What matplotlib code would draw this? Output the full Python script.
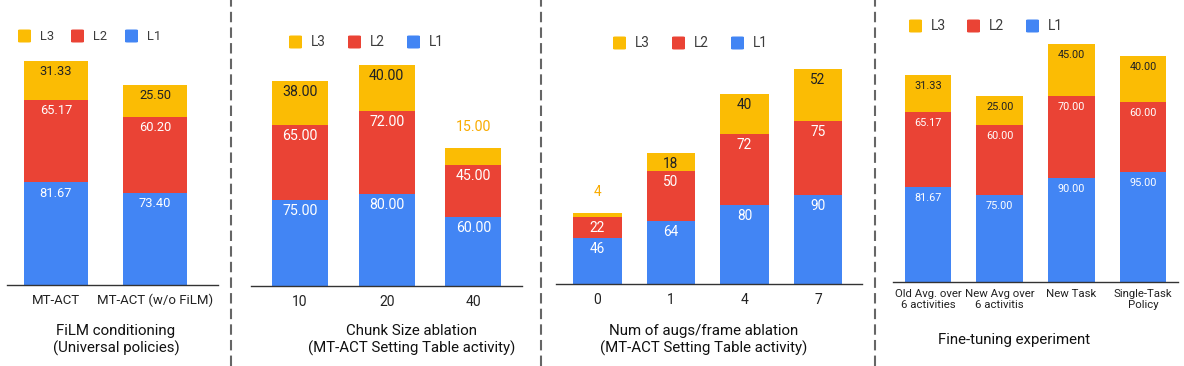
import matplotlib
matplotlib.use("Agg")
import matplotlib.pyplot as plt
from matplotlib.patches import FancyBboxPatch
from matplotlib.lines import Line2D

plt.rcParams['font.family'] = ['Roboto', 'DejaVu Sans']

W, H = 1184, 366
DPI = 100

series = ["L3", "L2", "L1"]
colors = {"L1": "#4285F4", "L2": "#EA4335", "L3": "#FBBC04"}

# Panel 1
p1_cats = ["MT-ACT", "MT-ACT (w/o FiLM)"]
p1_L1 = [81.67, 73.40]
p1_L2 = [65.17, 60.20]
p1_L3 = [31.33, 25.50]
p1_lab = [["81.67", "73.40"], ["65.17", "60.20"], ["31.33", "25.50"]]
p1_title = "FiLM conditioning\n(Universal policies)"

# Panel 2
p2_cats = ["10", "20", "40"]
p2_L1 = [75.0, 80.0, 60.0]
p2_L2 = [65.0, 72.0, 45.0]
p2_L3 = [38.0, 40.0, 15.0]
p2_lab = [["75.00", "80.00", "60.00"], ["65.00", "72.00", "45.00"], ["38.00", "40.00", "15.00"]]
p2_title = "Chunk Size ablation\n(MT-ACT Setting Table activity)"

# Panel 3
p3_cats = ["0", "1", "4", "7"]
p3_L1 = [46, 64, 80, 90]
p3_L2 = [22, 50, 72, 75]
p3_L3 = [4, 18, 40, 52]
p3_lab = [["46", "64", "80", "90"], ["22", "50", "72", "75"], ["4", "18", "40", "52"]]
p3_title = "Num of augs/frame ablation\n(MT-ACT Setting Table activity)"

# Panel 4
p4_cats = ["Old Avg. over\n6 activities", "New Avg over\n6 activitis", "New Task", "Single-Task\nPolicy"]
p4_L1 = [81.67, 75.00, 90.00, 95.00]
p4_L2 = [65.17, 60.00, 70.00, 60.00]
p4_L3 = [31.33, 25.00, 45.00, 40.00]
p4_lab = [["81.67", "75.00", "90.00", "95.00"], ["65.17", "60.00", "70.00", "60.00"], ["31.33", "25.00", "45.00", "40.00"]]
p4_title = "Fine-tuning experiment"

fig = plt.figure(figsize=(W / DPI, H / DPI), dpi=DPI)


def fx(px):
    return px / W


def fy(py):
    return 1 - py / H


def panel(cats, L1, L2, L3, labs, left, right, c0, sp, bw, base, scale, top,
          lab_fs, tick_fs, tick_pad, legend_y, legend_x, leg_fs, title, title_x, title_y,
          small_thresh):
    ax = fig.add_axes([fx(left), fy(base), fx(right - left), (base - top) / H])
    ax.set_xlim((left - c0) / sp, (right - c0) / sp)
    ax.set_ylim(0, (base - top) / scale)
    x = list(range(len(cats)))
    w = bw / sp
    bottoms = [0] * len(cats)
    for name, vals, lab in (("L1", L1, labs[0]), ("L2", L2, labs[1]), ("L3", L3, labs[2])):
        ax.bar(x, vals, w, bottom=bottoms, color=colors[name], linewidth=0, zorder=2)
        for i, v in enumerate(vals):
            topv = bottoms[i] + v
            if v * scale < small_thresh:
                ax.annotate(lab[i], (x[i], topv), xytext=(0, 21 * 72 / DPI),
                            textcoords="offset points", ha="center", va="center",
                            fontsize=lab_fs, color="#F9AB00" if name == "L3" else colors[name])
            else:
                tc = "#202124" if name == "L3" else "white"
                ax.annotate(lab[i], (x[i], topv), xytext=(0, -11 * 72 / DPI),
                            textcoords="offset points", ha="center", va="center",
                            fontsize=lab_fs, color=tc)
        bottoms = [b + v for b, v in zip(bottoms, vals)]
    for s in ("top", "right", "left"):
        ax.spines[s].set_visible(False)
    ax.spines["bottom"].set_color("#333333")
    ax.spines["bottom"].set_linewidth(1.0)
    ax.set_yticks([])
    ax.set_xticks(x)
    ax.set_xticklabels(cats, fontsize=tick_fs, color="#222222", linespacing=1.15)
    ax.tick_params(axis="x", length=0, pad=tick_pad)
    ax.patch.set_alpha(0)
    # legend
    for k, name in enumerate(series):
        sx = legend_x[k]
        fig.patches.append(FancyBboxPatch((fx(sx), fy(legend_y + 6.5)), fx(13), 13 / H,
                                          boxstyle="round,pad=0,rounding_size=0.002",
                                          transform=fig.transFigure, facecolor=colors[name],
                                          edgecolor="none"))
        fig.text(fx(sx + 22), fy(legend_y), name, fontsize=leg_fs, color="#3c3c3c",
                 ha="left", va="center")
    fig.text(fx(title_x), fy(title_y), title, fontsize=10.8, color="#111111",
             ha="center", va="center", linespacing=1.2)
    return ax


panel(p1_cats, p1_L1, p1_L2, p1_L3, p1_lab, 7, 218, 56, 99, 64, 285, 1.26, 40,
      9.3, 9.5, 6.5, 36, [18, 71, 125], 9.3, p1_title, 116, 340, 12)
panel(p2_cats, p2_L1, p2_L2, p2_L3, p2_lab, 251, 522, 300, 86.7, 56, 286, 1.15, 50,
      10.2, 10.0, 6.5, 42, [289, 348, 407], 9.8, p2_title, 412, 340, 20)
panel(p3_cats, p3_L1, p3_L2, p3_L3, p3_lab, 556, 862, 597.5, 73.5, 48.5, 284, 0.99, 50,
      9.8, 10.0, 6.5, 43, [613, 672, 731], 9.8, p3_title, 704, 340, 12)
panel(p4_cats, p4_L1, p4_L2, p4_L3, p4_lab, 893, 1178, 928, 71.7, 46.5, 282, 1.16, 30,
      7.8, 8.2, 5.0, 26, [909, 967, 1026], 10.0, p4_title, 1014, 340, 12)

for sx in (231, 541, 875):
    fig.add_artist(Line2D([fx(sx), fx(sx)], [0, 1], transform=fig.transFigure,
                          color="#666666", linewidth=1.5, linestyle=(0, (5, 2.5))))

fig.savefig("out.png", dpi=DPI)
